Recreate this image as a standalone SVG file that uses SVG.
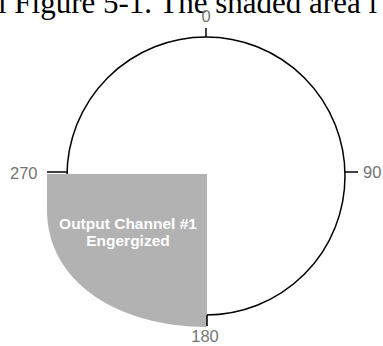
<svg xmlns="http://www.w3.org/2000/svg" width="383" height="346" viewBox="0 0 383 346">
<style>
.line{fill:none;stroke:#000;stroke-width:1.5}
.deg{font-family:"Liberation Sans",Arial,sans-serif;font-size:16.5px;fill:#747474}
.inner{font-family:"Liberation Sans",Arial,sans-serif;font-size:15.5px;font-weight:bold;fill:#fff;text-anchor:middle}
.cap{font-family:"Liberation Serif","Times New Roman",serif;font-size:31px;fill:#000}
</style>
<rect width="383" height="346" fill="#fff"/>
<text class="cap" x="-2" y="13">l Figure 5-1. The shaded area i</text>
<g id="dial">
<circle class="line" cx="206" cy="176" r="139"/>
</g>
<g id="shaded">
<path d="M47,174 L207,174 L207,327 C118,327 47,282 47,210 Z" fill="#b2b2b2"/>
<text class="inner" x="128" y="229">Output Channel #1</text>
<text class="inner" x="128" y="246">Engergized</text>
</g>
<g id="connectors">
<line class="line" x1="206" y1="28" x2="206" y2="37"/>
<line class="line" x1="345" y1="172" x2="358" y2="172"/>
<line class="line" x1="47" y1="172" x2="67.5" y2="172"/>
<line class="line" x1="207" y1="315" x2="207" y2="326"/>
</g>
<g id="labels">
<text class="deg" x="206" y="22" text-anchor="middle">0</text>
<text class="deg" x="363" y="178">90</text>
<text class="deg" x="10" y="179">270</text>
<text class="deg" x="205" y="342" text-anchor="middle">180</text>
</g>
</svg>
